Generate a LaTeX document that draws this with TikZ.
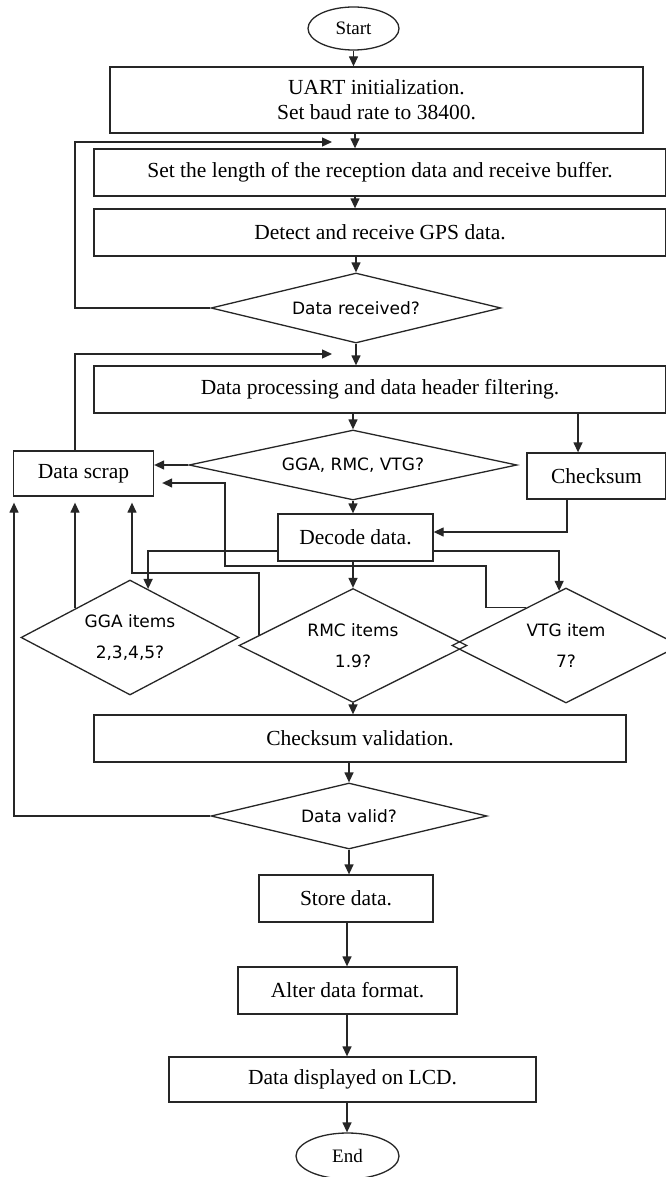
\documentclass[tikz,border=0pt]{standalone}
\usepackage{fontspec}
\setmainfont{Liberation Serif}
\newfontfamily\sansf{DejaVu Sans}
\usetikzlibrary{shapes.geometric,arrows.meta,calc}
\begin{document}
\begin{tikzpicture}[x=1pt,y=-1pt,
  line/.style={draw=black!85, line width=1.3pt},
  arr/.style={line, -{Triangle[length=10pt,width=9pt]}},
  box/.style={line, rectangle, inner sep=0pt, font=\fontsize{21.5}{25}\selectfont, align=center},
  term/.style={line, ellipse, inner sep=0pt, font=\fontsize{19}{22}\selectfont},
  dec/.style={line, diamond, inner sep=0pt, font=\sansf\fontsize{17}{31}\selectfont, align=center},
]
\useasboundingbox[fill=white] (0,0) rectangle (665,1177);

% nodes
\node[term, minimum width=91pt, minimum height=43pt] (start) at (353.5,28.5) {Start};
\node[box, minimum width=533pt, minimum height=66pt] (uart) at (376.5,100) {UART initialization.\\Set baud rate to 38400.};
\node[box, minimum width=572pt, minimum height=47pt] (setlen) at (380,172.5) {Set the length of the reception data and receive buffer.};
\node[box, minimum width=572pt, minimum height=47pt] (detect) at (380,232.5) {Detect and receive GPS data.};
\node[dec, aspect=4.14, minimum width=290pt, minimum height=70pt] (recv) at (356,308) {Data received?};
\node[box, minimum width=572pt, minimum height=47pt] (proc) at (380,389.5) {Data processing and data header filtering.};
\node[dec, aspect=4.7, minimum width=328pt, minimum height=70pt] (types) at (353,465) {GGA, RMC, VTG?};
\node[box, minimum width=140pt, minimum height=45pt] (scrap) at (83.5,473.5) {Data scrap};
\node[box, minimum width=139pt, minimum height=46pt] (cks) at (596.5,476) {Checksum};
\node[box, minimum width=155pt, minimum height=47pt] (decode) at (355.5,537.5) {Decode data.};
\node[dec, aspect=1.9, minimum width=218pt, minimum height=115pt] (gga) at (130,637.5) {GGA items\\2,3,4,5?};
\node[dec, aspect=2, minimum width=228pt, minimum height=114pt] (rmc) at (353,645.5) {RMC items\\1.9?};
\node[dec, aspect=2, minimum width=228pt, minimum height=115pt] (vtg) at (566,645.5) {VTG item\\7?};
\node[box, minimum width=532pt, minimum height=47pt] (cval) at (360,738.5) {Checksum validation.};
\node[dec, aspect=4.2, minimum width=276pt, minimum height=66pt] (valid) at (349,816) {Data valid?};
\node[box, minimum width=174pt, minimum height=47pt] (store) at (346,898.5) {Store data.};
\node[box, minimum width=219pt, minimum height=47pt] (alter) at (347.5,990.5) {Alter data format.};
\node[box, minimum width=367pt, minimum height=45pt] (lcd) at (352.5,1079.5) {Data displayed on LCD.};
\node[term, minimum width=103pt, minimum height=46pt] (end) at (347.5,1156) {End};

% helper coordinates
\coordinate (ax) at (355,0);
\coordinate (bx) at (347,0);
\coordinate (lp1c) at (75,142);
\coordinate (lp1) at (332,142);
\coordinate (lp2c) at (75,354);
\coordinate (lp2) at (332,354);
\coordinate (ckx) at (578,0);
\coordinate (ckd) at (567,532);
\coordinate (dl) at (0,551);
\coordinate (v1) at (486,566);
\coordinate (v2) at (225,483);
\coordinate (r1) at (132,573);
\coordinate (w1) at (14,0);
\coordinate (g1) at ($(gga.north)!0.5!(gga.west)$);
\coordinate (g2) at ($(gga.north)!0.165!(gga.east)$);
\coordinate (t1) at ($(vtg.north)!0.06!(vtg.west)$);
\coordinate (t2) at ($(vtg.north)!0.35!(vtg.west)$);
\coordinate (m1) at ($(rmc.north)!0.82!(rmc.west)$);

% main flow
\draw[arr] (start.south) -- (start.south |- uart.north);
\draw[arr] (uart.south -| ax) -- (setlen.north -| ax);
\draw[arr] (setlen.south -| ax) -- (detect.north -| ax);
\draw[arr] (detect.south -| recv.north) -- (recv.north);
\draw[arr] (recv.west) -| (lp1c) -- (lp1);
\draw[arr] (recv.south) -- (proc.north -| recv.south);
\draw[arr] (scrap.north -| lp2c) -- (lp2c) -- (lp2);
\draw[arr] (proc.south -| types.north) -- (types.north);
\draw[arr] (proc.south -| ckx) -- (cks.north -| ckx);
\draw[arr] (types.west) -- (scrap.east |- types.west);
\draw[arr] (types.south) -- (decode.north -| types.south);
\draw[arr] (cks.south -| ckd) |- (decode.east |- ckd);
\draw[arr] (decode.west |- dl) -| (g2);
\draw[arr] (decode.south -| rmc.north) -- (rmc.north);
\draw[arr] (decode.east |- dl) -| (t1);
\draw[arr, shorten >=8pt] (t2) -| (v1) -| (v2) -- (scrap.east |- v2);
\draw[arr, shorten >=6pt] (m1) |- (r1) -- (scrap.south -| r1);
\draw[arr, shorten >=6pt] (g1 -| lp2c) -- (scrap.south -| lp2c);
\draw[arr, shorten >=6pt] (valid.west) -| (scrap.south -| w1);
\draw[arr] (rmc.south) -- (cval.north -| rmc.south);
\draw[arr] (cval.south -| valid.north) -- (valid.north);
\draw[arr] (valid.south) -- (store.north -| valid.south);
\draw[arr] (store.south -| bx) -- (alter.north -| bx);
\draw[arr] (alter.south -| bx) -- (lcd.north -| bx);
\draw[arr] (lcd.south -| bx) -- (end.north -| bx);
\end{tikzpicture}
\end{document}
